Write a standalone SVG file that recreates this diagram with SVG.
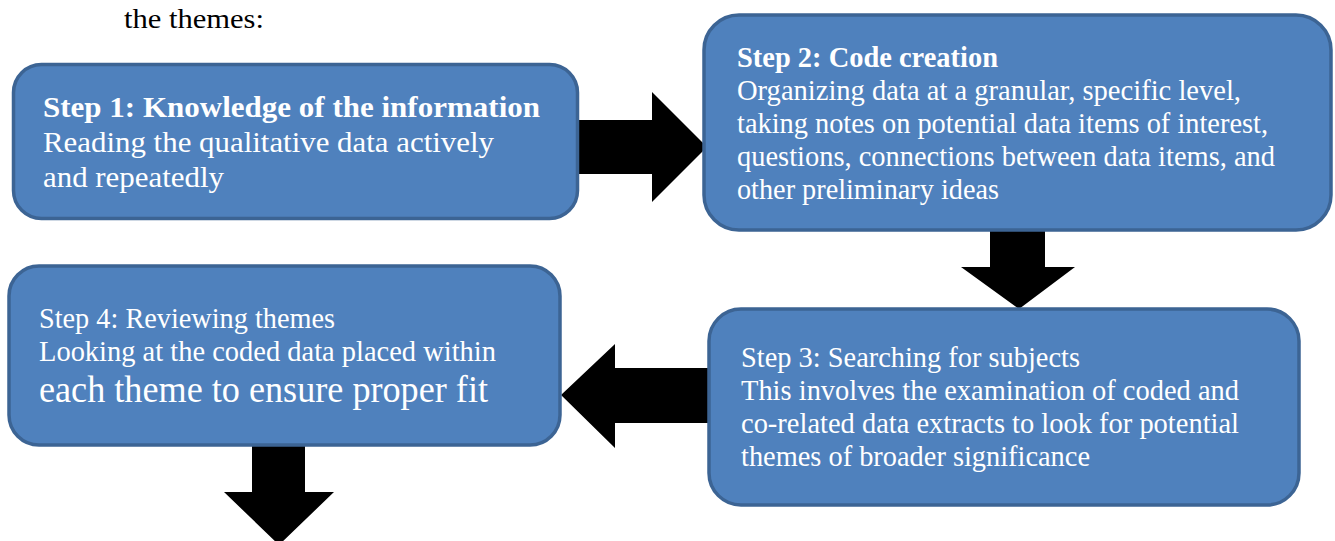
<svg xmlns="http://www.w3.org/2000/svg" width="1335" height="541" viewBox="0 0 1335 541">
<style>
.box{fill:#4f81bd;stroke:#3c6494;stroke-width:3.5}
.t{font-family:"Liberation Serif","Times New Roman",serif;fill:#ffffff}
.b{font-weight:bold}
.arrow{fill:#000000}
.cap{font-family:"Liberation Serif","Times New Roman",serif;fill:#000000}
</style>
<rect width="1335" height="541" fill="#ffffff"/>
<text class="cap" x="124" y="28" font-size="28" textLength="140" lengthAdjust="spacingAndGlyphs">the themes:</text>
<g id="connectors">
<polygon class="arrow" points="576,120 652,120 652,92 707,147 652,202 652,174 576,174"/>
<polygon class="arrow" points="990,228 1045,228 1045,267 1075,267 1019,309 961,267 990,267"/>
<polygon class="arrow" points="710,368 615,368 615,344 561,395 615,448 615,423 710,423"/>
<polygon class="arrow" points="252,444 305,444 305,492 334,492 279,545 224,492 252,492"/>
</g>
<g id="step1">
<rect class="box" x="13.5" y="64.5" width="564" height="154" rx="28"/>
<text class="t b" x="43" y="117" font-size="30" textLength="497" lengthAdjust="spacingAndGlyphs">Step 1: Knowledge of the information</text>
<text class="t" x="43" y="152" font-size="30" textLength="451" lengthAdjust="spacingAndGlyphs">Reading the qualitative data actively</text>
<text class="t" x="43" y="187" font-size="30" textLength="181" lengthAdjust="spacingAndGlyphs">and repeatedly</text>
</g>
<g id="step2">
<rect class="box" x="704" y="15" width="627" height="215" rx="35"/>
<text class="t b" x="737" y="67" font-size="29" textLength="261" lengthAdjust="spacingAndGlyphs">Step 2: Code creation</text>
<text class="t" x="737" y="100" font-size="29" textLength="504" lengthAdjust="spacingAndGlyphs">Organizing data at a granular, specific level,</text>
<text class="t" x="737" y="133" font-size="29" textLength="531" lengthAdjust="spacingAndGlyphs">taking notes on potential data items of interest,</text>
<text class="t" x="737" y="166" font-size="29" textLength="538" lengthAdjust="spacingAndGlyphs">questions, connections between data items, and</text>
<text class="t" x="737" y="199" font-size="29" textLength="262" lengthAdjust="spacingAndGlyphs">other preliminary ideas</text>
</g>
<g id="step3">
<rect class="box" x="709" y="309" width="590" height="196" rx="32"/>
<text class="t" x="741" y="367" font-size="29" textLength="339" lengthAdjust="spacingAndGlyphs">Step 3: Searching for subjects</text>
<text class="t" x="741" y="400" font-size="29" textLength="498" lengthAdjust="spacingAndGlyphs">This involves the examination of coded and</text>
<text class="t" x="741" y="433" font-size="29" textLength="498" lengthAdjust="spacingAndGlyphs">co-related data extracts to look for potential</text>
<text class="t" x="741" y="466" font-size="29" textLength="349" lengthAdjust="spacingAndGlyphs">themes of broader significance</text>
</g>
<g id="step4">
<rect class="box" x="9" y="266" width="551" height="179" rx="30"/>
<text class="t" x="39" y="328" font-size="29" textLength="296" lengthAdjust="spacingAndGlyphs">Step 4: Reviewing themes</text>
<text class="t" x="39" y="361" font-size="29" textLength="457" lengthAdjust="spacingAndGlyphs">Looking at the coded data placed within</text>
<text class="t" x="39" y="402" font-size="37" textLength="449" lengthAdjust="spacingAndGlyphs">each theme to ensure proper fit</text>
</g>
</svg>
